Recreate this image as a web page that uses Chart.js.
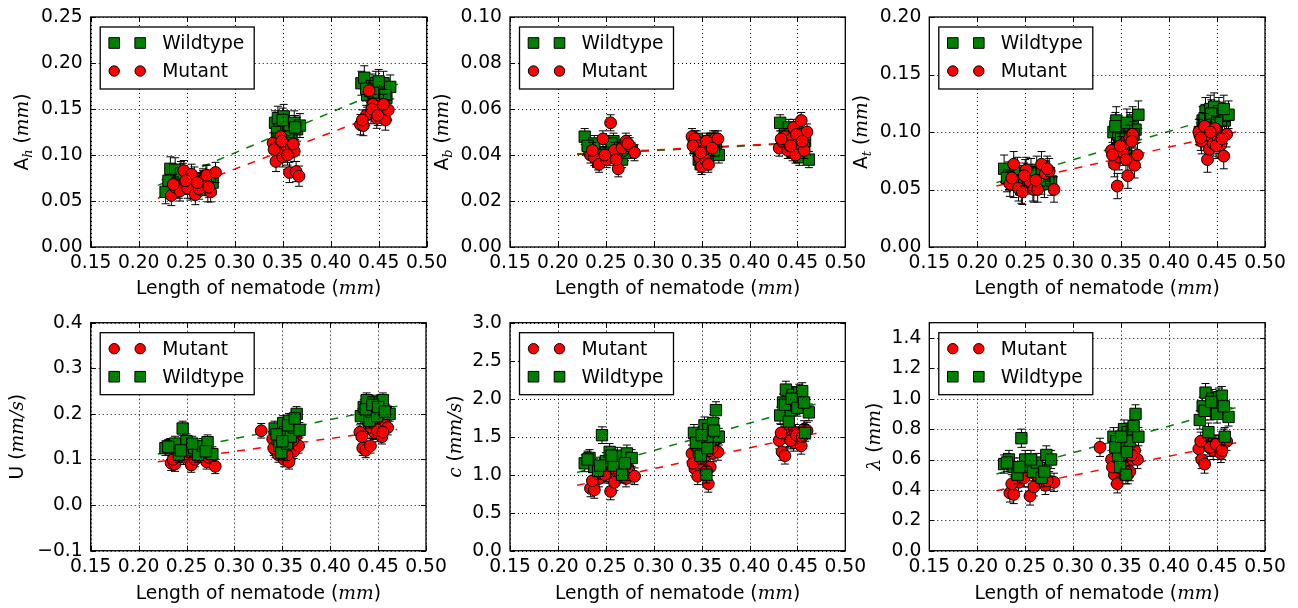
<!DOCTYPE html>
<html>
<head>
<meta charset="utf-8">
<script src="https://cdn.jsdelivr.net/npm/chart.js@4.4.1/dist/chart.umd.min.js"></script>
<style>
  html, body { margin: 0; padding: 0; background: #fff; }
  #fig { position: relative; width: 1298px; height: 608px; overflow: hidden; background: #fff; }
  #fig canvas { position: absolute; }
</style>
</head>
<body>
<div id="fig"></div>
<script>
/* ---------- data ---------- */
const lenTicks = [0.15, 0.20, 0.25, 0.30, 0.35, 0.40, 0.45, 0.50];
const ahTicks = [0, 0.05, 0.10, 0.15, 0.20, 0.25];
const abTicks = [0, 0.02, 0.04, 0.06, 0.08, 0.10];
const atTicks = [0, 0.05, 0.10, 0.15, 0.20];
const uTicks = [-0.1, 0, 0.1, 0.2, 0.3, 0.4];
const cTicks = [0, 0.5, 1.0, 1.5, 2.0, 2.5, 3.0];
const lamTicks = [0, 0.2, 0.4, 0.6, 0.8, 1.0, 1.2, 1.4];

// nematode lengths (mm)
const wildLen = [0.228, 0.233, 0.238, 0.242, 0.246, 0.250, 0.254, 0.258, 0.262, 0.267, 0.272, 0.277,
                 0.342, 0.345, 0.347, 0.349, 0.351, 0.353, 0.355, 0.357, 0.359, 0.362, 0.365, 0.368,
                 0.432, 0.435, 0.438, 0.441, 0.443, 0.445, 0.447, 0.449, 0.452, 0.455, 0.458, 0.462,
                 0.231, 0.244, 0.256, 0.270, 0.344, 0.350, 0.356, 0.363, 0.437, 0.444, 0.450, 0.457];
const mutLen = [0.234, 0.238, 0.243, 0.247, 0.251, 0.255, 0.259, 0.263, 0.267, 0.271, 0.275, 0.280,
                0.340, 0.343, 0.346, 0.348, 0.350, 0.352, 0.354, 0.357, 0.359, 0.362, 0.364, 0.367,
                0.431, 0.434, 0.437, 0.440, 0.442, 0.444, 0.446, 0.448, 0.451, 0.454, 0.457, 0.460,
                0.236, 0.249, 0.261, 0.273, 0.341, 0.349, 0.355, 0.361, 0.433, 0.443, 0.449, 0.455];
const mutLenSwim = [0.234, 0.238, 0.243, 0.247, 0.251, 0.255, 0.259, 0.263, 0.267, 0.271, 0.275, 0.280,
                    0.328,
                    0.340, 0.343, 0.346, 0.348, 0.350, 0.352, 0.354, 0.357, 0.359, 0.362, 0.364, 0.367,
                    0.431, 0.434, 0.437, 0.440, 0.442, 0.444, 0.446, 0.448, 0.451, 0.454, 0.457, 0.460,
                    0.236, 0.249, 0.261, 0.273, 0.341, 0.349, 0.355, 0.361, 0.433, 0.443, 0.449, 0.455];
const fitLen = [0.22, 0.47];

// head amplitude A_h
const wildAh = [0.060, 0.085, 0.084, 0.066, 0.078, 0.070, 0.064, 0.074, 0.068, 0.072, 0.062, 0.070,
                0.135, 0.140, 0.128, 0.118, 0.142, 0.125, 0.110, 0.130, 0.120, 0.135, 0.128, 0.132,
                0.178, 0.184, 0.165, 0.170, 0.175, 0.160, 0.178, 0.168, 0.172, 0.178, 0.162, 0.174,
                0.072, 0.080, 0.066, 0.076, 0.125, 0.138, 0.120, 0.130, 0.172, 0.168, 0.180, 0.165];
const mutAh = [0.056, 0.065, 0.061, 0.083, 0.064, 0.079, 0.057, 0.063, 0.072, 0.078, 0.060, 0.081,
               0.113, 0.093, 0.110, 0.120, 0.098, 0.105, 0.110, 0.081, 0.108, 0.104, 0.082, 0.077,
               0.133, 0.132, 0.143, 0.170, 0.145, 0.155, 0.148, 0.140, 0.146, 0.150, 0.138, 0.149,
               0.068, 0.072, 0.070, 0.065, 0.106, 0.115, 0.100, 0.112, 0.138, 0.150, 0.143, 0.155];
const fitAhWild = [0.067, 0.177];
const fitAhMut = [0.053, 0.152];

// body amplitude A_b
const wildAb = [0.048, 0.042, 0.045, 0.037, 0.040, 0.041, 0.039, 0.046, 0.043, 0.038, 0.044, 0.042,
                0.046, 0.047, 0.038, 0.036, 0.041, 0.039, 0.044, 0.037, 0.046, 0.047, 0.043, 0.040,
                0.054, 0.045, 0.047, 0.052, 0.043, 0.041, 0.048, 0.051, 0.039, 0.044, 0.046, 0.038,
                0.044, 0.040, 0.045, 0.041, 0.043, 0.045, 0.040, 0.042, 0.049, 0.046, 0.050, 0.043];
const mutAb = [0.040, 0.039, 0.036, 0.047, 0.038, 0.054, 0.042, 0.034, 0.043, 0.046, 0.044, 0.041,
               0.048, 0.047, 0.044, 0.039, 0.035, 0.042, 0.038, 0.036, 0.045, 0.046, 0.047, 0.047,
               0.043, 0.046, 0.048, 0.042, 0.044, 0.047, 0.052, 0.040, 0.045, 0.055, 0.042, 0.050,
               0.042, 0.040, 0.038, 0.045, 0.044, 0.041, 0.046, 0.043, 0.047, 0.044, 0.049, 0.046];
const fitAbWild = [0.0402, 0.0455];
const fitAbMut = [0.0405, 0.0458];

// tail amplitude A_t
const wildAt = [0.068, 0.062, 0.055, 0.066, 0.050, 0.064, 0.060, 0.052, 0.067, 0.058, 0.062, 0.057,
                0.100, 0.110, 0.098, 0.088, 0.092, 0.100, 0.085, 0.095, 0.105, 0.110, 0.102, 0.115,
                0.100, 0.110, 0.118, 0.108, 0.120, 0.112, 0.122, 0.105, 0.118, 0.114, 0.110, 0.115,
                0.060, 0.058, 0.065, 0.055, 0.105, 0.095, 0.108, 0.098, 0.112, 0.116, 0.108, 0.120];
const mutAt = [0.055, 0.072, 0.051, 0.048, 0.067, 0.057, 0.050, 0.050, 0.072, 0.064, 0.066, 0.050,
               0.084, 0.072, 0.053, 0.078, 0.085, 0.082, 0.090, 0.062, 0.095, 0.098, 0.071, 0.080,
               0.100, 0.092, 0.105, 0.076, 0.085, 0.095, 0.090, 0.103, 0.092, 0.089, 0.079, 0.098,
               0.060, 0.062, 0.058, 0.068, 0.080, 0.088, 0.076, 0.092, 0.095, 0.100, 0.088, 0.094];
const fitAtWild = [0.056, 0.118];
const fitAtMut = [0.053, 0.100];

// swimming speed U
const wildU = [0.125, 0.130, 0.135, 0.110, 0.168, 0.140, 0.120, 0.125, 0.110, 0.130, 0.138, 0.112,
               0.168, 0.145, 0.130, 0.115, 0.180, 0.160, 0.135, 0.185, 0.150, 0.170, 0.200, 0.165,
               0.195, 0.215, 0.230, 0.185, 0.205, 0.225, 0.210, 0.195, 0.225, 0.230, 0.205, 0.200,
               0.128, 0.120, 0.135, 0.118, 0.155, 0.140, 0.175, 0.190, 0.210, 0.220, 0.215, 0.205];
const mutU = [0.092, 0.090, 0.110, 0.105, 0.120, 0.088, 0.100, 0.125, 0.115, 0.095, 0.108, 0.085,
              0.163,
              0.145, 0.120, 0.110, 0.130, 0.115, 0.100, 0.125, 0.095, 0.140, 0.118, 0.150, 0.130,
              0.160, 0.125, 0.120, 0.180, 0.130, 0.165, 0.160, 0.175, 0.155, 0.150, 0.178, 0.170,
              0.100, 0.112, 0.118, 0.105, 0.125, 0.135, 0.110, 0.142, 0.150, 0.170, 0.165, 0.160];
const fitUWild = [0.112, 0.217];
const fitUMut = [0.095, 0.166];

// wave speed c
const wildC = [1.15, 1.22, 1.10, 1.05, 1.52, 1.18, 1.30, 1.12, 1.25, 1.00, 1.28, 1.22,
               1.55, 1.40, 1.30, 1.25, 1.48, 1.65, 1.00, 1.60, 1.45, 1.68, 1.85, 1.50,
               1.78, 1.95, 2.12, 1.70, 1.85, 2.05, 1.95, 1.90, 2.08, 2.10, 1.55, 1.82,
               1.20, 1.12, 1.25, 1.15, 1.42, 1.52, 1.35, 1.58, 1.92, 2.00, 1.88, 1.95];
const mutC = [0.82, 0.80, 0.95, 1.10, 1.02, 0.78, 0.90, 1.18, 1.05, 0.95, 1.00, 0.98,
              null,
              1.28, 1.08, 0.98, 1.20, 1.15, 1.30, 1.25, 0.88, 1.10, 1.28, 1.45, 1.30,
              1.45, 1.30, 1.25, 1.60, 1.48, 1.50, 1.42, 1.55, 1.48, 1.38, 1.60, 1.58,
              0.92, 1.00, 1.05, 1.10, 1.15, 1.22, 1.05, 1.35, 1.55, 1.45, 1.52, 1.50];
const fitCWild = [1.03, 1.93];
const fitCMut = [0.86, 1.545];

// wavelength lambda
const wildLam = [0.57, 0.60, 0.55, 0.50, 0.74, 0.60, 0.55, 0.52, 0.58, 0.48, 0.63, 0.60,
                 0.75, 0.72, 0.62, 0.55, 0.70, 0.80, 0.50, 0.78, 0.72, 0.80, 0.90, 0.75,
                 0.86, 0.95, 1.04, 0.78, 0.92, 1.00, 0.96, 0.93, 1.01, 1.02, 0.75, 0.88,
                 0.58, 0.55, 0.60, 0.52, 0.68, 0.75, 0.65, 0.82, 0.92, 0.98, 0.90, 0.95];
const mutLam = [0.38, 0.37, 0.45, 0.48, 0.52, 0.36, 0.42, 0.55, 0.47, 0.43, 0.46, 0.45,
                0.68,
                0.60, 0.50, 0.44, 0.56, 0.54, 0.58, 0.62, 0.50, 0.52, 0.60, 0.66, 0.60,
                0.67, 0.60, 0.57, 0.72, 0.68, 0.70, 0.66, 0.70, 0.68, 0.64, 0.74, 0.72,
                0.44, 0.48, 0.50, 0.46, 0.55, 0.58, 0.52, 0.63, 0.72, 0.68, 0.70, 0.66];
const fitLamWild = [0.505, 0.942];
const fitLamMut = [0.395, 0.71];

/* ---------- style ---------- */
const SANS = "'DejaVu Sans', sans-serif";
const SERIF = "'DejaVu Serif', serif";
const FS = 18.7;
const COL = { wt: "#008000", mut: "#ff0000" };

Chart.defaults.font.family = SANS;
Chart.defaults.font.size = FS;
Chart.defaults.color = "#000";

function segFont(s) {
  const size = s.sub ? 13 : FS;
  return (s.it ? "italic " : "") + size + "px " + (s.it ? SERIF : SANS);
}

// mixed-font label (roman + italic math parts), centred on cx, baseline on by
function drawRich(ctx, segs, cx, by, vertical) {
  ctx.save();
  ctx.translate(cx, by);
  if (vertical) ctx.rotate(-Math.PI / 2);
  ctx.fillStyle = "#000";
  ctx.textAlign = "left";
  ctx.textBaseline = "alphabetic";
  let total = 0;
  const widths = segs.map((s) => {
    ctx.font = segFont(s);
    const w = ctx.measureText(s.t).width;
    total += w;
    return w;
  });
  let x = -total / 2;
  segs.forEach((s, i) => {
    ctx.font = segFont(s);
    ctx.fillText(s.t, x, s.sub ? 4 : 0);
    x += widths[i];
  });
  ctx.restore();
}

function drawMarker(ctx, kind, x, y) {
  ctx.fillStyle = COL[kind];
  ctx.strokeStyle = "#000";
  ctx.lineWidth = 1;
  ctx.beginPath();
  if (kind === "wt") ctx.rect(x - 5.3, y - 5.3, 10.6, 10.6);
  else ctx.arc(x, y, 5.2, 0, Math.PI * 2);
  ctx.fill();
  ctx.stroke();
}

function makePanelPlugin(p) {
  return {
    id: "panel_" + p.id,
    // error bars go right under each series' markers
    beforeDatasetDraw(chart, args) {
      const ds = chart.data.datasets[args.index];
      if (!ds.err) return;
      const { ctx, chartArea: a } = chart;
      const xs = chart.scales.x, ys = chart.scales.y;
      ctx.save();
      ctx.beginPath();
      ctx.rect(a.left, a.top, a.right - a.left, a.bottom - a.top);
      ctx.clip();
      ctx.strokeStyle = "#000";
      ctx.lineWidth = 1;
      ds.data.forEach((d) => {
        const px = xs.getPixelForValue(d.x);
        const y1 = ys.getPixelForValue(d.y - ds.err);
        const y2 = ys.getPixelForValue(d.y + ds.err);
        ctx.beginPath();
        ctx.moveTo(px, y1); ctx.lineTo(px, y2);
        ctx.moveTo(px - 4, y1); ctx.lineTo(px + 4, y1);
        ctx.moveTo(px - 4, y2); ctx.lineTo(px + 4, y2);
        ctx.stroke();
      });
      ctx.restore();
    },
    afterDraw(chart) {
      const { ctx, chartArea: a } = chart;
      const xs = chart.scales.x, ys = chart.scales.y;
      ctx.save();
      // dotted grid
      ctx.strokeStyle = "#000";
      ctx.lineWidth = 1;
      ctx.setLineDash([1, 3]);
      lenTicks.forEach((v) => {
        const px = Math.round(xs.getPixelForValue(v)) + 0.5;
        ctx.beginPath(); ctx.moveTo(px, a.top); ctx.lineTo(px, a.bottom); ctx.stroke();
      });
      p.yTicks.forEach((v) => {
        const py = Math.round(ys.getPixelForValue(v)) + 0.5;
        ctx.beginPath(); ctx.moveTo(a.left, py); ctx.lineTo(a.right, py); ctx.stroke();
      });
      ctx.setLineDash([]);
      // inward ticks on all four sides
      lenTicks.forEach((v) => {
        const px = Math.round(xs.getPixelForValue(v)) + 0.5;
        ctx.beginPath();
        ctx.moveTo(px, a.bottom); ctx.lineTo(px, a.bottom - 5);
        ctx.moveTo(px, a.top); ctx.lineTo(px, a.top + 5);
        ctx.stroke();
      });
      p.yTicks.forEach((v) => {
        const py = Math.round(ys.getPixelForValue(v)) + 0.5;
        ctx.beginPath();
        ctx.moveTo(a.left, py); ctx.lineTo(a.left + 5, py);
        ctx.moveTo(a.right, py); ctx.lineTo(a.right - 5, py);
        ctx.stroke();
      });
      // frame
      ctx.lineWidth = 1.3;
      ctx.strokeRect(a.left, a.top, a.right - a.left, a.bottom - a.top);

      // legend (two markers per entry)
      const bx = a.left + 9.5, by = a.top + 10, bw = 154, bh = 62;
      ctx.fillStyle = "#fff";
      ctx.fillRect(bx, by, bw, bh);
      ctx.strokeStyle = "#000";
      ctx.lineWidth = 1.3;
      ctx.strokeRect(bx, by, bw, bh);
      const items = chart.data.datasets.filter((d) => d.err);
      items.forEach((d, i) => {
        const ly = by + 16 + i * 28;
        drawMarker(ctx, d.kind, bx + 14, ly);
        drawMarker(ctx, d.kind, bx + 40, ly);
        ctx.fillStyle = "#000";
        ctx.font = FS + "px " + SANS;
        ctx.textBaseline = "middle";
        ctx.textAlign = "left";
        ctx.fillText(d.label, bx + 62, ly + 1);
      });
      ctx.restore();

      // axis titles
      drawRich(ctx, p.xTitle, (a.left + a.right) / 2, a.bottom + p.xTitleOff, false);
      drawRich(ctx, p.yTitle, a.left - p.yTitleOff, (a.top + a.bottom) / 2, true);
    },
  };
}

const xTitleSegs = [{ t: "Length of nematode (" }, { t: "mm", it: true }, { t: ")" }];

const panels = [
  { id: "ah", x: 0, y: 0, w: 450, h: 300, axisW: 90.7, padR: 23.3, padT: 17, axisH: 53, xPad: 4.5,
    yMin: 0, yMax: 0.25, yTicks: ahTicks, dec: 2, xTitleOff: 47, yTitleOff: 62.4,
    yTitle: [{ t: "A" }, { t: "h", it: true, sub: true }, { t: " (" }, { t: "mm", it: true }, { t: ")" }],
    series: [{ label: "Wildtype", kind: "wt", xs: wildLen, ys: wildAh, err: 0.013 },
             { label: "Mutant", kind: "mut", xs: mutLen, ys: mutAh, err: 0.011 }],
    fits: [{ kind: "wt", ys: fitAhWild }, { kind: "mut", ys: fitAhMut }] },
  { id: "ab", x: 430, y: 0, w: 440, h: 300, axisW: 80, padR: 24.7, padT: 17, axisH: 53, xPad: 4.5,
    yMin: 0, yMax: 0.10, yTicks: abTicks, dec: 2, xTitleOff: 47, yTitleOff: 61.7,
    yTitle: [{ t: "A" }, { t: "b", it: true, sub: true }, { t: " (" }, { t: "mm", it: true }, { t: ")" }],
    series: [{ label: "Wildtype", kind: "wt", xs: wildLen, ys: wildAb, err: 0.0035 },
             { label: "Mutant", kind: "mut", xs: mutLen, ys: mutAb, err: 0.0035 }],
    fits: [{ kind: "wt", ys: fitAbWild }, { kind: "mut", ys: fitAbMut }] },
  { id: "at", x: 850, y: 0, w: 448, h: 300, axisW: 79.3, padR: 33, padT: 17, axisH: 53, xPad: 4.5,
    yMin: 0, yMax: 0.20, yTicks: atTicks, dec: 2, xTitleOff: 47, yTitleOff: 62,
    yTitle: [{ t: "A" }, { t: "t", it: true, sub: true }, { t: " (" }, { t: "mm", it: true }, { t: ")" }],
    series: [{ label: "Wildtype", kind: "wt", xs: wildLen, ys: wildAt, err: 0.012 },
             { label: "Mutant", kind: "mut", xs: mutLen, ys: mutAt, err: 0.011 }],
    fits: [{ kind: "wt", ys: fitAtWild }, { kind: "mut", ys: fitAtMut }] },
  { id: "u", x: 0, y: 300, w: 450, h: 308, axisW: 90.7, padR: 24, padT: 22.7, axisH: 57.3, xPad: 5.5,
    yMin: -0.1, yMax: 0.4, yTicks: uTicks, dec: 1, xTitleOff: 48.3, yTitleOff: 67.4,
    yTitle: [{ t: "U (" }, { t: "mm/s", it: true }, { t: ")" }],
    series: [{ label: "Mutant", kind: "mut", xs: mutLenSwim, ys: mutU, err: 0.016 },
             { label: "Wildtype", kind: "wt", xs: wildLen, ys: wildU, err: 0.016 }],
    fits: [{ kind: "mut", ys: fitUMut }, { kind: "wt", ys: fitUWild }] },
  { id: "c", x: 430, y: 300, w: 440, h: 308, axisW: 80, padR: 24.7, padT: 22.7, axisH: 57.3, xPad: 5.5,
    yMin: 0, yMax: 3.0, yTicks: cTicks, dec: 1, xTitleOff: 48.3, yTitleOff: 49.3,
    yTitle: [{ t: "c", it: true }, { t: " (" }, { t: "mm/s", it: true }, { t: ")" }],
    series: [{ label: "Mutant", kind: "mut", xs: mutLenSwim, ys: mutC, err: 0.11 },
             { label: "Wildtype", kind: "wt", xs: wildLen, ys: wildC, err: 0.11 }],
    fits: [{ kind: "mut", ys: fitCMut }, { kind: "wt", ys: fitCWild }] },
  { id: "lam", x: 850, y: 300, w: 448, h: 308, axisW: 79.3, padR: 33, padT: 22.7, axisH: 57.3, xPad: 5.5,
    yMin: 0, yMax: 1.5, yTicks: lamTicks, dec: 1, xTitleOff: 48.3, yTitleOff: 49.3,
    yTitle: [{ t: "\u03bb", it: true }, { t: " (" }, { t: "mm", it: true }, { t: ")" }],
    series: [{ label: "Mutant", kind: "mut", xs: mutLenSwim, ys: mutLam, err: 0.06 },
             { label: "Wildtype", kind: "wt", xs: wildLen, ys: wildLam, err: 0.06 }],
    fits: [{ kind: "mut", ys: fitLamMut }, { kind: "wt", ys: fitLamWild }] },
];

const fig = document.getElementById("fig");

function fmt(v, dec) {
  const s = Math.abs(v).toFixed(dec);
  return v < -1e-9 ? "\u2212" + s : s;
}

panels.forEach((p) => {
  p.xTitle = xTitleSegs;
  const cv = document.createElement("canvas");
  cv.width = p.w;
  cv.height = p.h;
  cv.style.left = p.x + "px";
  cv.style.top = p.y + "px";
  cv.style.width = p.w + "px";
  cv.style.height = p.h + "px";
  fig.appendChild(cv);

  const datasets = [];
  p.fits.forEach((f, i) => {
    datasets.push({
      type: "line",
      data: fitLen.map((x, j) => ({ x: x, y: f.ys[j] })),
      borderColor: COL[f.kind],
      borderWidth: 1.5,
      borderDash: [8, 8],
      pointRadius: 0,
      fill: false,
      showLine: true,
      order: 11 - i,
    });
  });
  p.series.forEach((s, i) => {
    datasets.push({
      type: "scatter",
      label: s.label,
      kind: s.kind,
      err: s.err,
      data: s.xs.map((x, j) => ({ x: x, y: s.ys[j] })).filter((d) => d.y !== null),
      backgroundColor: COL[s.kind],
      borderColor: "#000",
      borderWidth: 1,
      pointStyle: s.kind === "wt" ? "rect" : "circle",
      pointRadius: s.kind === "wt" ? 8 : 5.9,
      pointHoverRadius: s.kind === "wt" ? 8 : 5.9,
      order: 5 - i * 4,
    });
  });

  new Chart(cv, {
    type: "scatter",
    data: { datasets: datasets },
    options: {
      responsive: false,
      animation: false,
      devicePixelRatio: 1,
      events: [],
      layout: { padding: { left: 0, right: p.padR, top: p.padT, bottom: 0 } },
      plugins: { legend: { display: false }, tooltip: { enabled: false } },
      scales: {
        x: {
          type: "linear",
          min: 0.15,
          max: 0.5,
          grid: { display: false, drawTicks: false },
          border: { display: false },
          ticks: { color: "#000", padding: p.xPad, maxRotation: 0, autoSkip: false,
                   font: { size: FS, family: SANS }, callback: (v) => fmt(v, 2) },
          afterBuildTicks: (s) => { s.ticks = lenTicks.map((v) => ({ value: v })); },
          afterFit: (s) => { s.height = p.axisH; s.paddingLeft = 0; s.paddingRight = 0; },
        },
        y: {
          type: "linear",
          min: p.yMin,
          max: p.yMax,
          grid: { display: false, drawTicks: false },
          border: { display: false },
          ticks: { color: "#000", padding: 8, autoSkip: false,
                   font: { size: FS, family: SANS }, callback: (v) => fmt(v, p.dec) },
          afterBuildTicks: (s) => { s.ticks = p.yTicks.map((v) => ({ value: v })); },
          afterFit: (s) => { s.width = p.axisW; s.paddingTop = 0; s.paddingBottom = 0; },
        },
      },
    },
    plugins: [makePanelPlugin(p)],
  });
});
</script>
</body>
</html>
